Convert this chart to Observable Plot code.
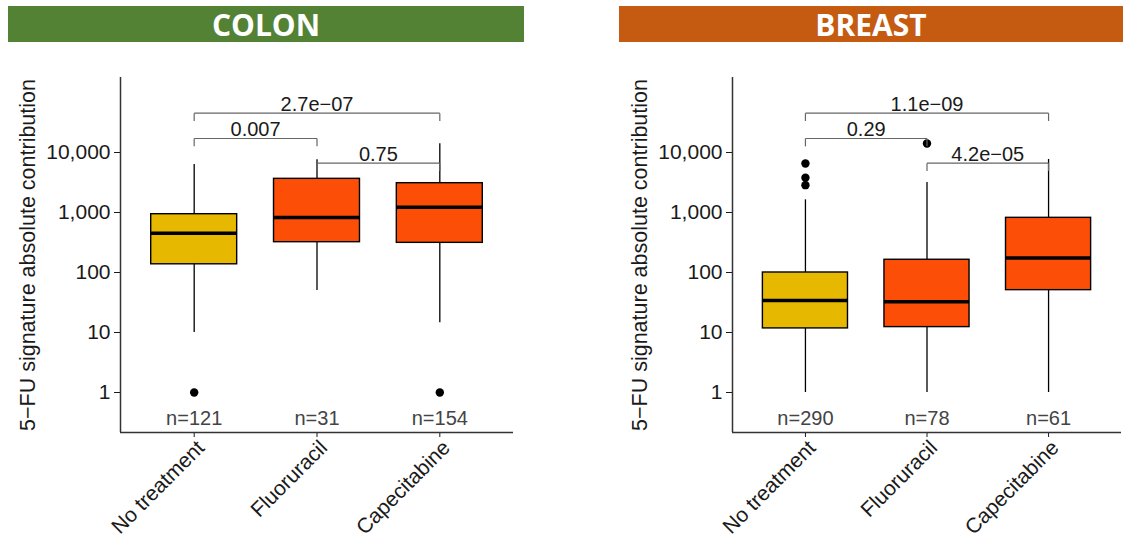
<!DOCTYPE html>
<html><head><meta charset="utf-8">
<script src="https://cdn.jsdelivr.net/npm/d3@7"></script>
<script src="https://cdn.jsdelivr.net/npm/@observablehq/plot@0.6"></script>
<style>
body{margin:0;background:#fff;}
#wrap{position:relative;width:1123px;height:541px;overflow:hidden;font-family:"Liberation Sans",Arial,sans-serif;}
.hdr{position:absolute;top:6px;height:36px;color:#fff;font-family:"Open Sans",sans-serif;font-weight:700;font-size:30px;line-height:37px;text-align:center;}
.panel{position:absolute;top:50px;}
</style></head><body>
<div id="wrap">
<div class="hdr" style="left:8px;width:516px;background:#548235">COLON</div>
<div class="hdr" style="left:619px;width:504px;background:#C55A11">BREAST</div>
<div class="panel" id="colon" style="left:0px"></div>
<div class="panel" id="breast" style="left:590px"></div>
</div>
<script>
// ---- data ----
const categories = ["No treatment", "Fluoruracil", "Capecitabine"];
const groupFill = ["#E7B800", "#FC4E07", "#FC4E07"];
const yTicks = [1, 10, 100, 1000, 10000];
const yTitle = "5\u2212FU signature absolute contribution";

// COLON
const colonLow = [10, 50, 14.5];
const colonQ1 = [137, 320, 312];
const colonMedian = [452, 826, 1227];
const colonQ3 = [937, 3640, 3080];
const colonHigh = [6310, 7550, 13940];
const colonOutlierGroup = ["No treatment", "Capecitabine"];
const colonOutlierValue = [1, 1];
const colonN = [121, 31, 154];
const colonPFrom = ["No treatment", "Fluoruracil", "No treatment"];
const colonPTo = ["Fluoruracil", "Capecitabine", "Capecitabine"];
const colonPLabel = ["0.007", "0.75", "2.7e\u221207"];
const colonPLevel = [17100, 6630, 45200];

// BREAST
const breastLow = [1, 1, 1];
const breastQ1 = [11.7, 12.3, 50.8];
const breastMedian = [34, 32.5, 175];
const breastQ3 = [100, 163, 815];
const breastHigh = [1627, 3160, 7640];
const breastOutlierGroup = ["No treatment", "No treatment", "No treatment", "Fluoruracil"];
const breastOutlierValue = [6560, 3785, 2855, 14100];
const breastN = [290, 78, 61];
const breastPFrom = ["No treatment", "Fluoruracil", "No treatment"];
const breastPTo = ["Fluoruracil", "Capecitabine", "Capecitabine"];
const breastPLabel = ["0.29", "4.2e\u221205", "1.1e\u221209"];
const breastPLevel = [17100, 6630, 45200];

// ---- drawing ----
const pos = g => categories.indexOf(g) + 1;
const halfBox = 0.35;
const tip = 1.35;
const yDomain = [Math.pow(10, -40 / 60), Math.pow(10, 5.25)];
const nLabelY = 0.37;

function panel(d, {width, marginLeft, marginRight}) {
  const boxes = categories.map((c, i) => ({
    i: i + 1, name: c, fill: groupFill[i], low: d.low[i], q1: d.q1[i], median: d.median[i], q3: d.q3[i], high: d.high[i], n: "n=" + d.n[i]
  }));
  const outliers = d.outGroup.map((g, k) => ({i: pos(g), v: d.outValue[k]}));
  const brackets = d.pLabel.map((l, k) => ({a: pos(d.pFrom[k]), b: pos(d.pTo[k]), y: d.pLevel[k], label: l}));
  const segs = brackets.flatMap(b => [
    {x1: b.a, x2: b.b, y1: b.y, y2: b.y},
    {x1: b.a, x2: b.a, y1: b.y, y2: b.y / tip},
    {x1: b.b, x2: b.b, y1: b.y, y2: b.y / tip}
  ]);
  return Plot.plot({
    width, height: 491, marginLeft, marginRight, marginTop: 27, marginBottom: 109,
    style: {fontFamily: "'Liberation Sans', Arial, sans-serif", fontSize: "21px", background: "transparent", overflow: "visible"},
    x: {type: "linear", domain: [0.4, 3.6]},
    y: {type: "log", domain: yDomain},
    marks: [
      Plot.axisY({ticks: yTicks, tickFormat: d3.format(","), tickSize: 6, tickPadding: 4, label: null, color: "#1a1a1a", fontSize: 21}),
      Plot.axisX({ticks: [1, 2, 3], tickFormat: () => "", tickSize: 5, label: null, color: "#1a1a1a"}),
      Plot.text(boxes, {x: "i", text: "name", frameAnchor: "bottom", rotate: -45, textAnchor: "end", lineAnchor: "top", dx: 1, dy: 6, fontSize: 21, fill: "#1a1a1a"}),
      Plot.ruleY([yDomain[0]], {stroke: "#333", strokeWidth: 1.5}),
      Plot.ruleX([0.4], {stroke: "#333", strokeWidth: 1.5}),
      Plot.ruleX(boxes, {x: "i", y1: "low", y2: "high", stroke: "#000", strokeWidth: 1.3}),
      Plot.rect(boxes, {x1: b => b.i - halfBox, x2: b => b.i + halfBox, y1: "q1", y2: "q3", fill: "fill", stroke: "#000", strokeWidth: 1.4}),
      Plot.ruleY(boxes, {x1: b => b.i - halfBox, x2: b => b.i + halfBox, y: "median", stroke: "#000", strokeWidth: 3.5}),
      Plot.dot(outliers, {x: "i", y: "v", r: 4.2, fill: "#000"}),
      Plot.text(boxes, {x: "i", y: () => nLabelY, text: "n", fill: "#444", fontSize: 20, lineAnchor: "middle"}),
      Plot.link(segs, {x1: "x1", x2: "x2", y1: "y1", y2: "y2", stroke: "#666", strokeWidth: 1.2}),
      Plot.text(brackets, {x: b => (b.a + b.b) / 2, y: "y", text: "label", dy: -9, fontSize: 20, fill: "#1a1a1a", lineAnchor: "middle"}),
      Plot.text([yTitle], {frameAnchor: "left", rotate: -90, dx: -92, fontSize: 21.5, fill: "#1a1a1a", textAnchor: "middle", lineAnchor: "middle"})
    ]
  });
}

document.getElementById("colon").append(panel({
  low: colonLow, q1: colonQ1, median: colonMedian, q3: colonQ3, high: colonHigh,
  outGroup: colonOutlierGroup, outValue: colonOutlierValue, n: colonN,
  pFrom: colonPFrom, pTo: colonPTo, pLabel: colonPLabel, pLevel: colonPLevel
}, {width: 530, marginLeft: 120, marginRight: 17}));

document.getElementById("breast").append(panel({
  low: breastLow, q1: breastQ1, median: breastMedian, q3: breastQ3, high: breastHigh,
  outGroup: breastOutlierGroup, outValue: breastOutlierValue, n: breastN,
  pFrom: breastPFrom, pTo: breastPTo, pLabel: breastPLabel, pLevel: breastPLevel
}, {width: 533, marginLeft: 142, marginRight: 2}));
</script>
</body></html>
